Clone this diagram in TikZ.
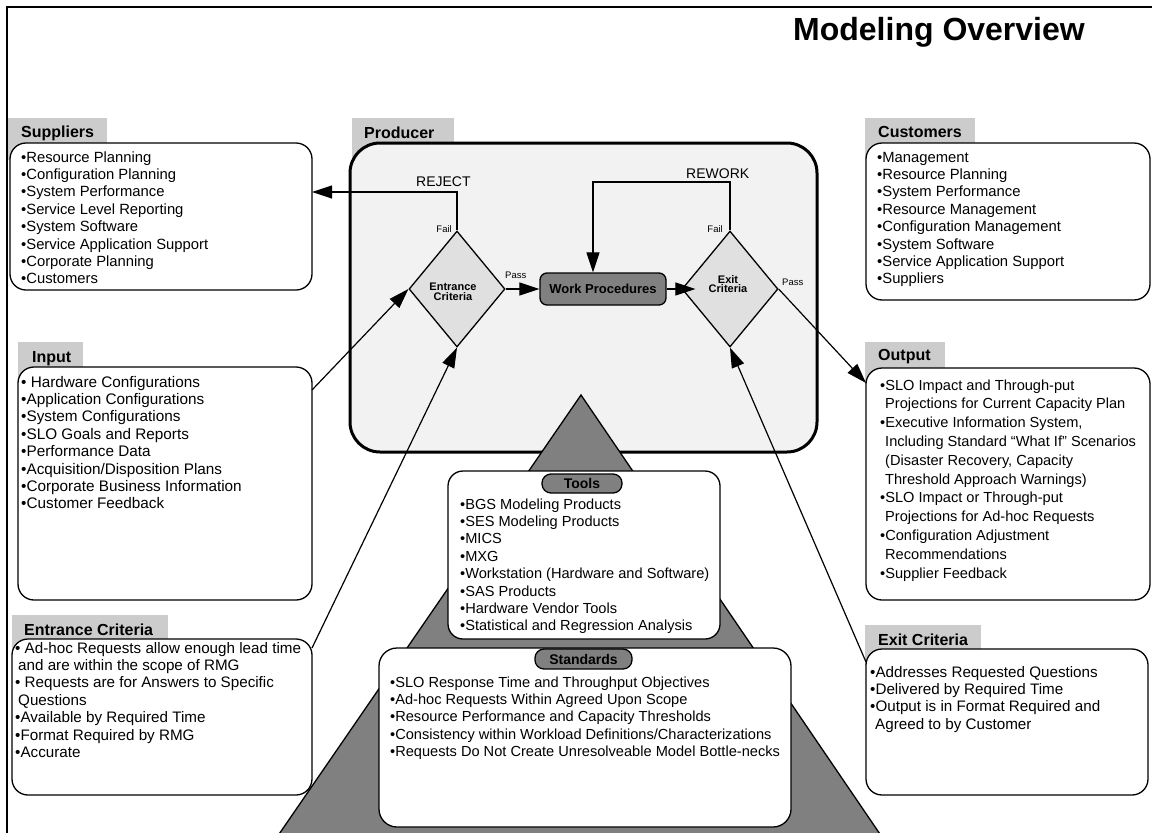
\documentclass[tikz,border=0pt]{standalone}
\usepackage{fontspec}
\setmainfont{Liberation Sans}
\usetikzlibrary{arrows.meta,shapes.geometric,calc}
\definecolor{tabgray}{gray}{0.8}
\definecolor{prodfill}{gray}{0.95}
\definecolor{diafill}{gray}{0.88}
\definecolor{darkfill}{gray}{0.5}

\begin{document}
\begin{tikzpicture}[x=1pt,y=-1pt,
  tab/.style={fill=tabgray, draw=none},
  box/.style={draw, line width=1.3pt, fill=white, rounded corners=16pt,
              outer sep=0pt, inner sep=0pt, anchor=north west},
  hdr/.style={font=\fontsize{16}{19}\selectfont\bfseries, anchor=base west, inner sep=0pt},
  lst/.style={font=\fontsize{#1}{17.4}\selectfont, anchor=north west, inner sep=0pt, align=left},
  lst/.default=14.8,
  small/.style={font=\fontsize{9.5}{11}\selectfont, inner sep=0pt},
  loop/.style={font=\fontsize{14}{16}\selectfont, anchor=base west, inner sep=0pt},
  decision/.style={shape=diamond, draw, line width=1.3pt, fill=diafill,
                   minimum width=96pt, minimum height=116pt, inner sep=0pt},
  dlabel/.style={font=\fontsize{11}{9.8}\selectfont\bfseries, align=center, inner sep=0pt},
  pill/.style={draw, line width=1.3pt, fill=darkfill, rounded corners=9pt,
               font=\fontsize{14}{16}\selectfont\bfseries, inner sep=0pt},
  arr/.style={line width=1.2pt, -{Triangle[length=20pt,width=13pt]}},
]
\useasboundingbox (0,0) rectangle (1152,833);
\fill[white] (0,0) rectangle (1152,833);

% page frame
\draw[line width=2.5pt] (7,845) -- (7,7) -- (1160,7);

% title
\node[font=\fontsize{32}{36}\selectfont\bfseries, anchor=base, inner sep=0pt] (title) at (939,40) {Modeling Overview};

% header tabs
\fill[tab] (8,118) rectangle (107,160);
\fill[tab] (352,118) rectangle (454,175);
\fill[tab] (865,118) rectangle (975,160);
\fill[tab] (18,342) rectangle (83,384);
\fill[tab] (865,342) rectangle (945,384);
\fill[tab] (12,615) rectangle (168,656);
\fill[tab] (865,625) rectangle (981,666);

% producer box
\node[draw, line width=3pt, fill=prodfill, rounded corners=30pt, outer sep=0pt, inner sep=0pt,
      anchor=north west, minimum width=467pt, minimum height=309pt] (prod) at (350,143) {};

% resource pyramid
\coordinate (apex) at (581,395);
\draw[line width=1.3pt, fill=darkfill] (apex) -- (275,840) -- (884,840) -- cycle;

% side boxes
\node[box, minimum width=302pt, minimum height=147pt] (sup) at (10,143) {};
\node[box, minimum width=284pt, minimum height=157pt] (cust) at (866,143) {};
\node[box, minimum width=294pt, minimum height=233pt] (inp) at (18,367) {};
\node[box, minimum width=284pt, minimum height=232pt] (outbox) at (866,368) {};
\node[box, minimum width=300pt, minimum height=156pt] (entbox) at (12,639) {};
\node[box, minimum width=282pt, minimum height=146pt] (exbox) at (866,649) {};

% tools and standards
\node[box, rounded corners=15pt, minimum width=272pt, minimum height=168pt] (tools) at (448,471) {};
\node[box, rounded corners=18pt, minimum width=412pt, minimum height=179pt] (stds) at (379,648) {};
\node[pill, minimum width=80pt, minimum height=19pt] (toolslbl) at (582,483.5) {Tools};
\node[pill, minimum width=97pt, minimum height=20pt] (stdslbl) at (583.5,659) {Standards};

% headers
\node[hdr] (hsup) at (21,137) {Suppliers};
\node[hdr] (hprod) at (364,138) {Producer};
\node[hdr] (hcust) at (878,137) {Customers};
\node[hdr] (hinp) at (32,362) {Input};
\node[hdr] (hout) at (878,360) {Output};
\node[hdr] (hent) at (24,635) {Entrance Criteria};
\node[hdr] (hex) at (878,645) {Exit Criteria};

% lists
\node[lst] (lsup) at (21,149.8) {\strut•Resource Planning\\•Configuration Planning\\•System Performance\\
  •Service Level Reporting\\•System Software\\•Service Application Support\\•Corporate Planning\\•Customers};
\node[lst] (lcust) at (877,149.8) {\strut•Management\\•Resource Planning\\•System Performance\\
  •Resource Management\\•Configuration Management\\•System Software\\•Service Application Support\\•Suppliers};
\node[lst=15.3] (linp) at (21,374.8) {\strut• Hardware Configurations\\•Application Configurations\\•System Configurations\\
  •SLO Goals and Reports\\•Performance Data\\•Acquisition/Disposition Plans\\•Corporate Business Information\\•Customer Feedback};
\node[lst=14.6, font=\fontsize{14.6}{18.8}\selectfont] (lout) at (880,376.8) {\strut•SLO Impact and Through-put\\
  \hspace*{5pt}Projections for Current Capacity Plan\\
  •Executive Information System,\\
  \hspace*{5pt}Including Standard “What If” Scenarios\\
  \hspace*{5pt}(Disaster Recovery, Capacity\\
  \hspace*{5pt}Threshold Approach Warnings)\\
  •SLO Impact or Through-put\\
  \hspace*{5pt}Projections for Ad-hoc Requests\\
  •Configuration Adjustment\\
  \hspace*{5pt}Recommendations\\
  •Supplier Feedback};
\node[lst=15.2] (lent) at (15,640.8) {\strut• Ad-hoc Requests allow enough lead time\\
  \hspace*{3pt}and are within the scope of RMG\\
  • Requests are for Answers to Specific\\
  \hspace*{3pt}Questions\\
  •Available by Required Time\\
  •Format Required by RMG\\
  •Accurate};
\node[lst=15.2] (lex) at (870,664.8) {\strut•Addresses Requested Questions\\•Delivered by Required Time\\
  •Output is in Format Required and\\\hspace*{5pt}Agreed to by Customer};
\node[lst=14.6] (ltools) at (460,496.8) {\strut•BGS Modeling Products\\•SES Modeling Products\\•MICS\\•MXG\\
  •Workstation (Hardware and Software)\\•SAS Products\\•Hardware Vendor Tools\\•Statistical and Regression Analysis};
\node[lst=14.6] (lstds) at (390,674.8) {\strut•SLO Response Time and Throughput Objectives\\
  •Ad-hoc Requests Within Agreed Upon Scope\\
  •Resource Performance and Capacity Thresholds\\
  •Consistency within Workload Definitions/Characterizations\\
  •Requests Do Not Create Unresolveable Model Bottle-necks};

% process inside the producer
\node[decision] (ent) at (457,289) {};
\node[decision] (ex) at (730,289) {};
\node[dlabel] (entlbl) at (453,292) {Entrance\\Criteria};
\node[dlabel] (exlbl) at (728,284) {Exit\\Criteria};
\node[draw, line width=1.3pt, fill=darkfill, rounded corners=7pt, minimum width=126pt, minimum height=32pt,
      inner sep=0pt, font=\fontsize{13}{15}\selectfont\bfseries] (work) at (603,289) {Work Procedures};

% decision labels
\node[small, anchor=base east] (entfail) at (452,232) {Fail};
\node[small, anchor=base east] (exfail) at (723,232) {Fail};
\node[small, anchor=base west] (entpass) at (505,278) {Pass};
\node[small, anchor=base west] (expass) at (782,285) {Pass};
\node[loop] (reject) at (416,186) {REJECT};
\node[loop] (rework) at (686,178) {REWORK};

% connectors
\coordinate (rej) at (400,192);
\coordinate (rw) at (593,182);
\draw[arr] (ent.north) |- (sup.east |- rej);
\draw[arr] (ex.north) |- (rw) -- (rw |- work.north);
\draw[arr] (ent.east) -- (work.west);
\draw[arr] (work.east) -- ($(ex.west)+(14,0)$);
\draw[arr] (ex.east) -- ($(outbox.north west)+(0,15)$);
\draw[arr] ($(inp.north east)+(0,23)$) -- (ent.west);
\draw[arr] ($(entbox.north east)+(0,9)$) -- (ent.south);
\draw[arr] ($(exbox.north west)+(0,13)$) -- (ex.south);
\end{tikzpicture}
\end{document}
